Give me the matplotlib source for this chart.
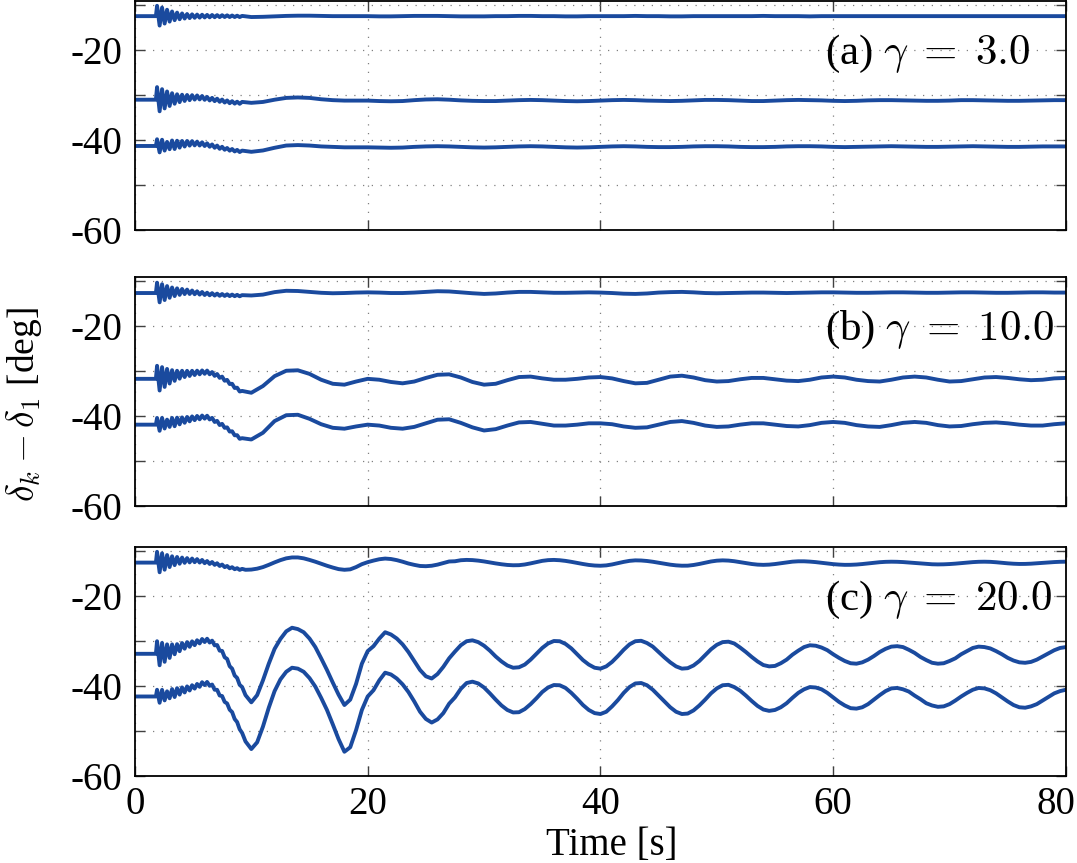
import matplotlib
matplotlib.use("Agg")
import matplotlib.pyplot as plt
import matplotlib.transforms as mtransforms

plt.rcParams['font.family'] = ['Liberation Serif', 'DejaVu Serif']
plt.rcParams['mathtext.fontset'] = 'cm'

# time samples [s]
t_pre = [0.0, 1.8]
t_ring = [1.90, 2.12, 2.33, 2.55, 2.76, 2.98, 3.19, 3.41, 3.62, 3.84,
          4.05, 4.27, 4.48, 4.70, 4.91, 5.13, 5.34, 5.56, 5.77, 5.99,
          6.20, 6.42, 6.63, 6.85, 7.06, 7.28, 7.49, 7.71, 7.92, 8.14,
          8.35, 8.57, 8.78, 9.00, 9.21]
t_slow = list(range(10, 81))                      # 1 s sampling, panels (a) and (b)
t_slow_c = [0.5 * k for k in range(19, 161)]      # 0.5 s sampling (9.5 .. 80), panel (c)

# initial angle differences [deg]
a_start = [-12.4, -31.0, -41.3]
b_start = [-12.6, -31.7, -41.9]
c_start = [-12.5, -32.8, -42.3]

####################################################################################################
# (a) gamma = 3.0                                                                                  #
####################################################################################################
a_top_ring = [-10.1, -14.5, -10.5, -14.05, -10.97, -13.62, -11.36, -13.3, -11.61, -13.09,
              -11.8, -12.93, -11.92, -12.84, -12.0, -12.77, -12.05, -12.73, -12.09, -12.69,
              -12.13, -12.66, -12.15, -12.64, -12.17, -12.62, -12.19, -12.6, -12.22, -12.6,
              -12.26, -12.6, -12.3, -12.6, -12.35]
a_mid_ring = [-28.2, -33.58, -28.66, -32.94, -29.17, -32.4, -29.55, -31.9, -29.79, -31.54,
              -29.89, -31.28, -29.95, -31.1, -29.99, -30.98, -30.05, -30.94, -30.17, -31.03,
              -30.38, -31.17, -30.59, -31.32, -30.77, -31.47, -30.97, -31.63, -31.17, -31.78,
              -31.33, -31.87, -31.44, -31.92, -31.49]
a_bot_ring = [-39.8, -42.73, -39.91, -42.33, -40.39, -42.02, -40.08, -41.98, -40.13, -41.67,
              -40.18, -41.42, -40.19, -41.22, -40.22, -41.17, -40.33, -41.2, -40.48, -41.31,
              -40.71, -41.47, -40.96, -41.7, -41.21, -41.93, -41.48, -42.14, -41.75, -42.34,
              -41.97, -42.52, -42.17, -42.65, -42.33]

a_top_slow = [-12.6, -12.55, -12.45, -12.35, -12.3, -12.3, -12.35, -12.4, -12.4, -12.4,
              -12.4, -12.45, -12.45, -12.4, -12.35, -12.35, -12.35, -12.4, -12.45, -12.45,
              -12.45, -12.4, -12.4, -12.35, -12.35, -12.4, -12.4, -12.45, -12.45, -12.4,
              -12.4, -12.4, -12.4, -12.35, -12.4, -12.4, -12.45, -12.45, -12.4, -12.4,
              -12.4, -12.4, -12.4, -12.4, -12.35, -12.4, -12.4, -12.4, -12.45, -12.4,
              -12.4, -12.4, -12.4, -12.4, -12.4, -12.4, -12.4, -12.4, -12.4, -12.4,
              -12.4, -12.4, -12.4, -12.4, -12.4, -12.4, -12.4, -12.4, -12.4, -12.4,
              -12.4]
a_mid_slow = [-31.7, -31.5, -31.0, -30.6, -30.5, -30.6, -30.9, -31.1, -31.2, -31.2,
              -31.2, -31.3, -31.35, -31.3, -31.1, -30.95, -30.9, -31.0, -31.15, -31.25,
              -31.3, -31.3, -31.2, -31.1, -31.05, -31.1, -31.2, -31.3, -31.35, -31.3,
              -31.2, -31.1, -31.05, -31.1, -31.2, -31.25, -31.3, -31.25, -31.15, -31.05,
              -31.05, -31.1, -31.2, -31.3, -31.3, -31.2, -31.1, -31.05, -31.1, -31.15,
              -31.25, -31.3, -31.25, -31.15, -31.1, -31.1, -31.15, -31.2, -31.25, -31.25,
              -31.2, -31.1, -31.1, -31.15, -31.2, -31.25, -31.25, -31.2, -31.15, -31.1,
              -31.1]
a_bot_slow = [-42.6, -42.3, -41.7, -41.2, -41.1, -41.2, -41.4, -41.5, -41.6, -41.6,
              -41.6, -41.65, -41.7, -41.65, -41.5, -41.4, -41.35, -41.4, -41.5, -41.6,
              -41.65, -41.6, -41.5, -41.4, -41.35, -41.4, -41.5, -41.6, -41.65, -41.6,
              -41.5, -41.4, -41.35, -41.4, -41.5, -41.55, -41.55, -41.5, -41.4, -41.35,
              -41.35, -41.4, -41.5, -41.55, -41.55, -41.5, -41.4, -41.35, -41.35, -41.4,
              -41.5, -41.55, -41.5, -41.45, -41.4, -41.35, -41.4, -41.45, -41.5, -41.5,
              -41.45, -41.4, -41.35, -41.4, -41.45, -41.5, -41.5, -41.45, -41.4, -41.4,
              -41.4]

####################################################################################################
# (b) gamma = 10.0                                                                                 #
####################################################################################################
b_top_ring = [-10.3, -14.67, -10.64, -14.16, -11.05, -13.66, -11.37, -13.28, -11.56, -13.01,
              -11.7, -12.83, -11.84, -12.82, -12.04, -12.87, -12.21, -12.95, -12.37, -13.04,
              -12.53, -13.1, -12.63, -13.16, -12.73, -13.22, -12.82, -13.25, -12.88, -13.28,
              -12.95, -13.3, -13.01, -13.32, -13.07]
b_mid_ring = [-28.8, -34.3, -29.1, -33.5, -29.5, -32.75, -29.77, -32.15, -29.9, -31.66,
              -29.9, -31.3, -29.92, -31.06, -29.91, -30.86, -29.88, -30.7, -29.83, -30.58,
              -29.86, -30.69, -30.19, -31.04, -30.63, -31.48, -31.21, -32.13, -31.93, -32.86,
              -32.8, -33.74, -33.67, -34.52, -34.39]
b_bot_ring = [-40.4, -43.27, -40.39, -42.76, -40.78, -42.4, -40.4, -42.25, -40.34, -41.83,
              -40.29, -41.48, -40.19, -41.16, -40.06, -40.9, -39.96, -40.71, -39.87, -40.56,
              -39.91, -40.74, -40.39, -41.3, -41.06, -41.98, -41.73, -42.61, -42.5, -43.44,
              -43.37, -44.27, -44.24, -45.05, -44.91]

b_top_slow = [-13.15, -12.95, -12.4, -12.1, -12.15, -12.35, -12.55, -12.65, -12.6, -12.5,
              -12.45, -12.5, -12.6, -12.6, -12.5, -12.35, -12.2, -12.25, -12.45, -12.65,
              -12.8, -12.7, -12.5, -12.35, -12.35, -12.45, -12.55, -12.55, -12.5, -12.45,
              -12.5, -12.6, -12.75, -12.8, -12.7, -12.5, -12.4, -12.35, -12.45, -12.6,
              -12.65, -12.6, -12.55, -12.5, -12.5, -12.55, -12.6, -12.55, -12.5, -12.45,
              -12.45, -12.5, -12.55, -12.55, -12.5, -12.45, -12.45, -12.5, -12.55, -12.55,
              -12.5, -12.45, -12.45, -12.5, -12.55, -12.55, -12.5, -12.45, -12.45, -12.5,
              -12.5]
b_mid_slow = [-34.8, -33.3, -31.1, -29.9, -29.8, -30.6, -31.9, -32.8, -33.0, -32.3,
              -31.7, -31.9, -32.4, -32.7, -32.3, -31.5, -30.8, -30.7, -31.4, -32.4,
              -33.0, -32.8, -32.0, -31.3, -31.2, -31.6, -31.9, -31.9, -31.7, -31.4,
              -31.3, -31.6, -32.2, -32.7, -32.6, -31.9, -31.2, -31.0, -31.4, -32.0,
              -32.3, -32.2, -31.8, -31.5, -31.5, -31.8, -32.1, -32.2, -31.9, -31.4,
              -31.2, -31.4, -31.9, -32.2, -32.3, -31.9, -31.4, -31.2, -31.4, -31.9,
              -32.3, -32.2, -31.8, -31.4, -31.3, -31.5, -31.8, -32.0, -31.9, -31.6,
              -31.5]
b_bot_slow = [-45.2, -43.7, -41.1, -39.8, -39.7, -40.6, -41.8, -42.6, -42.8, -42.3,
              -41.9, -42.1, -42.6, -42.8, -42.4, -41.6, -40.8, -40.7, -41.5, -42.5,
              -43.2, -42.9, -42.1, -41.4, -41.3, -41.7, -42.1, -42.1, -41.9, -41.6,
              -41.6, -41.8, -42.3, -42.6, -42.5, -41.9, -41.3, -41.1, -41.5, -42.1,
              -42.4, -42.3, -41.9, -41.6, -41.6, -41.9, -42.2, -42.3, -42.0, -41.5,
              -41.3, -41.5, -42.0, -42.3, -42.4, -42.0, -41.5, -41.3, -41.5, -42.0,
              -42.3, -42.2, -41.8, -41.5, -41.4, -41.6, -41.9, -42.1, -42.1, -41.8,
              -41.6]

####################################################################################################
# (c) gamma = 20.0                                                                                 #
####################################################################################################
c_top_ring = [-10.1, -14.65, -10.43, -14.08, -10.81, -13.49, -11.09, -13.06, -11.25, -12.75,
              -11.38, -12.55, -11.5, -12.46, -11.59, -12.41, -11.72, -12.49, -11.91, -12.63,
              -12.15, -12.8, -12.37, -13.0, -12.64, -13.25, -12.93, -13.51, -13.25, -13.77,
              -13.52, -13.97, -13.74, -14.12, -13.89]
c_mid_ring = [-30.0, -35.35, -30.38, -34.58, -30.7, -33.72, -30.7, -32.9, -30.65, -32.22,
              -30.4, -31.66, -30.2, -31.24, -30.03, -30.88, -29.78, -30.49, -29.5, -30.18,
              -29.44, -30.29, -29.87, -30.92, -30.84, -32.1, -32.16, -33.58, -33.93, -35.56,
              -36.1, -37.64, -38.17, -39.72, -40.19]
c_bot_ring = [-40.8, -43.7, -40.82, -43.17, -41.15, -42.7, -40.65, -42.42, -40.45, -41.88,
              -40.28, -41.4, -40.06, -40.96, -39.79, -40.55, -39.51, -40.15, -39.12, -39.76,
              -39.06, -39.92, -39.64, -40.8, -40.81, -42.08, -42.2, -43.51, -43.85, -45.24,
              -45.77, -47.32, -47.99, -49.6, -50.41]

c_top_slow = [-14.1, -14.05, -13.85, -13.5, -13.0, -12.45, -11.95, -11.55, -11.35, -11.35,
              -11.55, -11.9, -12.3, -12.75, -13.2, -13.6, -13.95, -14.1, -14.0, -13.5,
              -12.85, -12.4, -12.05, -11.75, -11.6, -11.7, -11.95, -12.3, -12.7, -13.0,
              -13.25, -13.3, -13.2, -12.95, -12.6, -12.25,
              -12.2, -11.97, -11.9, -11.94, -12.06, -12.24, -12.46, -12.68, -12.87, -13.02,
              -13.09, -13.07, -12.92, -12.67, -12.38, -12.11, -11.95, -11.9, -11.97, -12.12,
              -12.33, -12.57, -12.81, -13.02, -13.15, -13.2, -13.12, -12.91, -12.63, -12.34,
              -12.11, -12.0, -12.03, -12.14, -12.31, -12.53, -12.76, -12.96, -13.11, -13.19,
              -13.18, -13.03, -12.8, -12.52, -12.25, -12.07, -12.0, -12.05, -12.19, -12.39,
              -12.61, -12.81, -12.95, -13.0, -12.95, -12.82, -12.64, -12.45, -12.29, -12.21,
              -12.21, -12.28, -12.39, -12.54, -12.69, -12.84, -12.94, -13.0, -12.99, -12.93,
              -12.82, -12.68, -12.54, -12.41, -12.33, -12.3, -12.32, -12.38, -12.48, -12.59,
              -12.7, -12.8, -12.87, -12.9, -12.88, -12.82, -12.73, -12.61, -12.49, -12.39,
              -12.32, -12.3, -12.33, -12.42, -12.54, -12.66, -12.75, -12.8, -12.79, -12.74,
              -12.66, -12.56, -12.46, -12.38, -12.32, -12.3]
c_mid_slow = [-42.0, -43.6, -42.0, -38.7, -35.0, -31.7, -29.5, -27.8, -27.0, -27.3,
              -28.0, -29.4, -31.3, -33.8, -36.4, -39.2, -41.9, -44.2, -43.0, -39.5,
              -35.0, -32.2, -31.1, -29.4, -28.0, -28.5, -29.4, -30.7, -32.4, -34.4,
              -36.4, -37.8, -38.3, -37.3, -35.7, -33.8,
              -32.3, -30.9, -30.0, -29.8, -30.2, -31.0, -32.1, -33.4, -34.5, -35.4,
              -35.9, -35.8, -35.2, -34.1, -32.8, -31.5, -30.5, -29.95, -30.0, -30.6,
              -31.6, -32.9, -34.2, -35.2, -35.9, -36.1, -35.6, -34.6, -33.3, -31.9,
              -30.7, -30.0, -29.9, -30.4, -31.2, -32.4, -33.6, -34.7, -35.6, -36.1,
              -36.0, -35.4, -34.4, -33.1, -31.8, -30.8, -30.2, -30.1, -30.5, -31.4,
              -32.4, -33.5, -34.5, -35.3, -35.6, -35.5, -34.9, -34.1, -33.0, -32.1,
              -31.3, -30.9, -31.0, -31.4, -32.0, -32.9, -33.7, -34.4, -34.9, -35.0,
              -34.7, -34.1, -33.3, -32.4, -31.7, -31.2, -31.1, -31.3, -31.9, -32.6,
              -33.5, -34.2, -34.8, -35.0, -34.9, -34.4, -33.8, -32.9, -32.2, -31.5,
              -31.2, -31.3, -31.6, -32.2, -32.9, -33.7, -34.3, -34.7, -34.8, -34.6,
              -34.1, -33.4, -32.7, -32.0, -31.5, -31.3]
c_bot_slow = [-52.3, -54.0, -52.5, -49.0, -44.8, -41.1, -38.5, -36.8, -35.9, -36.1,
              -36.8, -38.2, -40.1, -42.6, -45.3, -48.5, -51.8, -54.6, -53.6, -49.8,
              -45.3, -42.3, -40.9, -38.7, -37.0, -37.4, -38.3, -39.6, -41.3, -43.4,
              -45.7, -47.3, -48.1, -47.4, -46.0, -43.9,
              -42.5, -40.6, -39.3, -39.0, -39.4, -40.3, -41.6, -43.0, -44.3, -45.3,
              -45.85, -45.8, -45.1, -44.0, -42.7, -41.3, -40.3, -39.75, -39.8, -40.4,
              -41.5, -42.8, -44.2, -45.3, -46.0, -46.2, -45.7, -44.5, -43.1, -41.5,
              -40.2, -39.4, -39.3, -39.8, -40.8, -42.1, -43.4, -44.7, -45.7, -46.2,
              -46.1, -45.4, -44.3, -43.0, -41.6, -40.5, -39.8, -39.7, -40.2, -41.0,
              -42.1, -43.3, -44.4, -45.2, -45.5, -45.3, -44.7, -43.8, -42.6, -41.5,
              -40.7, -40.2, -40.3, -40.7, -41.5, -42.5, -43.5, -44.3, -44.9, -45.0,
              -44.7, -44.0, -43.0, -42.0, -41.1, -40.5, -40.4, -40.7, -41.2, -42.1,
              -42.9, -43.8, -44.3, -44.6, -44.5, -44.0, -43.2, -42.3, -41.5, -40.8,
              -40.4, -40.5, -40.9, -41.6, -42.5, -43.4, -44.2, -44.7, -44.8, -44.5,
              -44.0, -43.2, -42.4, -41.6, -41.1, -40.8]

panel_labels = [r'(a) $\gamma\;=\;3.0$', r'(b) $\gamma\;=\;10.0$', r'(c) $\gamma\;=\;20.0$']
x_ticks = [0, 20, 40, 60, 80]
y_ticks = [-60, -50, -40, -30, -20, -10]
y_ticklabels = ['-60', '', '-40', '', '-20', '']

# build each panel's curves
panels = [
    (t_slow, a_start, [a_top_ring, a_mid_ring, a_bot_ring], [a_top_slow, a_mid_slow, a_bot_slow]),
    (t_slow, b_start, [b_top_ring, b_mid_ring, b_bot_ring], [b_top_slow, b_mid_slow, b_bot_slow]),
    (t_slow_c, c_start, [c_top_ring, c_mid_ring, c_bot_ring], [c_top_slow, c_mid_slow, c_bot_slow]),
]

lineColor = '#1a4a9e'
gridColor = '#808080'

fig = plt.figure(figsize=(10.77, 8.63), dpi=100)
bottoms = [0.7335, 0.4137, 0.1008]

axes = []
for i, (tslow, starts, rings, slows) in enumerate(panels):
    ax = fig.add_axes([0.1253, bottoms[i], 0.8644, 0.2655])
    for start, ring, slow in zip(starts, rings, slows):
        t = t_pre + t_ring + list(tslow)
        y = [start, start] + ring + slow
        ax.plot(t, y, color=lineColor, linewidth=2.8, solid_joinstyle='round')

    ax.set_xlim(0, 80)
    ax.set_ylim(-60, -9)
    ax.set_xticks(x_ticks)
    ax.set_yticks(y_ticks)
    ax.set_yticklabels(y_ticklabels)
    if i < 2:
        ax.set_xticklabels([])
    else:
        ax.set_xticklabels([str(v) for v in x_ticks])

    ax.grid(True, color=gridColor, linestyle=(0, (1, 6)), linewidth=0.9)
    ax.tick_params(direction='in', length=7, width=1.0, color='#404040',
                   top=True, right=True, labelsize=28, pad=9)
    ax.tick_params(axis='x', pad=7)
    for s in ax.spines.values():
        s.set_linewidth(1.3)
        s.set_color('black')

    ax.text(59.3, -20.8, panel_labels[i], fontsize=31, ha='left', va='center')
    axes.append(ax)

# keep the last x tick label inside the figure
last = axes[2].get_xticklabels()[-1]
last.set_transform(last.get_transform() +
                   mtransforms.ScaledTranslation(-0.1, 0, fig.dpi_scale_trans))

fig.text(0.568, 1 - 845.0 / 863, 'Time [s]', fontsize=28, ha='center', va='center')
fig.text(0.022, 1 - 405.0 / 863, r'$\delta_k - \delta_1$ [deg]', fontsize=27,
         rotation=90, ha='center', va='center')

fig.savefig('out.png', dpi=100)
